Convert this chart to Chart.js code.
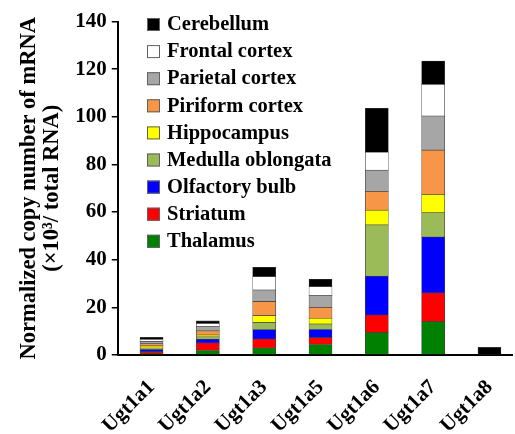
<!DOCTYPE html>
<html>
<head>
<meta charset="utf-8">
<script src="https://cdn.jsdelivr.net/npm/chart.js@4.4.1/dist/chart.umd.min.js"></script>
<style>
  html, body { margin: 0; padding: 0; background: #fff; }
  #wrap { width: 515px; height: 434px; }
</style>
</head>
<body>
<div id="wrap"><canvas id="grafico"></canvas></div>
<script>
// categorias y valores (x10^3 / total RNA)
const genes = ['Ugt1a1', 'Ugt1a2', 'Ugt1a3', 'Ugt1a5', 'Ugt1a6', 'Ugt1a7', 'Ugt1a8'];
const regiones = ['Thalamus', 'Striatum', 'Olfactory bulb', 'Medulla oblongata', 'Hippocampus',
                  'Piriform cortex', 'Parietal cortex', 'Frontal cortex', 'Cerebellum'];
const thalamus   = [0.6, 1.9, 2.9, 4.4,  9.4, 14.0, 0];
const striatum   = [0.8, 3.1, 3.8, 2.9,  7.4, 12.0, 0];
const olfactory  = [0.9, 1.6, 3.9, 3.4, 16.3, 23.5, 0];
const medulla    = [0.6, 1.0, 3.1, 2.3, 21.5, 10.2, 0];
const hippocampus= [0.9, 0.8, 2.8, 2.4,  6.2,  7.7, 0];
const piriform   = [0.9, 1.7, 5.9, 4.6,  7.8, 18.6, 0];
const parietal   = [1.0, 1.8, 4.9, 4.9,  9.0, 14.3, 0];
const frontal    = [0.8, 1.3, 5.6, 3.8,  7.5, 13.3, 0];
const cerebellum = [0.9, 1.1, 3.9, 3.1, 18.5,  9.8, 3.2];
const yTicks = [0, 20, 40, 60, 80, 100, 120, 140];

const series = [thalamus, striatum, olfactory, medulla, hippocampus, piriform, parietal, frontal, cerebellum];
const colores = ['#008000', '#ff0000', '#0000ff', '#9bbb59', '#ffff00', '#f79646', '#a6a6a6', '#ffffff', '#000000'];
const fuente = '"Liberation Serif", "Times New Roman", serif';

const datasets = series.map((vals, k) => ({
    label: regiones[k],
    data: vals.map((v, i) => ({x: i, y: v})),
    backgroundColor: colores[k],
    borderColor: '#404040',
    borderWidth: 0.6,
    borderSkipped: false,
    barThickness: 23
}));

// leyenda dentro del area, de arriba (Cerebellum) hacia abajo
const leyenda = {
    id: 'leyenda',
    afterDraw(chart) {
        const ctx = chart.ctx;
        const ds = chart.data.datasets.slice().reverse();
        ctx.save();
        ctx.font = 'bold 20.5px ' + fuente;
        ctx.textBaseline = 'middle';
        ds.forEach((d, i) => {
            const y = 25 + i * 27.1;
            ctx.fillStyle = d.backgroundColor;
            ctx.fillRect(147, y - 7, 13, 13);
            ctx.strokeStyle = '#606060';
            ctx.lineWidth = 1;
            ctx.strokeRect(147.5, y - 6.5, 12, 12);
            ctx.fillStyle = '#000';
            ctx.fillText(d.label, 167, y);
        });
        ctx.restore();
    }
};

new Chart(document.querySelector('#grafico'), {
    type: 'bar',
    data: { datasets: datasets },
    options: {
        responsive: true,
        maintainAspectRatio: false,
        animation: false,
        layout: { padding: { top: 21.5, right: 3, left: 17, bottom: 0 } },
        plugins: { legend: { display: false }, tooltip: { enabled: false } },
        scales: {
            x: {
                type: 'linear',
                stacked: true,
                offset: false,
                min: -0.6,
                max: 6.4,
                afterBuildTicks: s => { s.ticks = genes.map((g, i) => ({value: i})); },
                afterFit: s => { s.height = 79; s.paddingRight = 0; },
                grid: { display: false },
                border: { color: '#000', width: 2 },
                ticks: {
                    color: '#000',
                    font: { family: fuente, size: 21, weight: 'bold' },
                    minRotation: 45,
                    maxRotation: 45,
                    padding: 12,
                    callback: v => genes[v]
                }
            },
            y: {
                stacked: true,
                min: 0,
                max: 140,
                afterBuildTicks: s => { s.ticks = yTicks.map(v => ({value: v})); },
                grid: { drawOnChartArea: false, color: '#000', tickLength: 6, lineWidth: 1.5 },
                border: { color: '#000', width: 2 },
                ticks: {
                    color: '#000',
                    padding: 5,
                    font: { family: fuente, size: 21, weight: 'bold' }
                },
                title: {
                    display: true,
                    text: ['Normalized copy number of mRNA', '(\u00d710\u00b3/ total RNA)'],
                    color: '#000',
                    font: { family: fuente, size: 22.5, weight: 'bold', lineHeight: 1.05 },
                    padding: { top: 0, bottom: 6 }
                }
            }
        }
    },
    plugins: [leyenda]
});
</script>
</body>
</html>
